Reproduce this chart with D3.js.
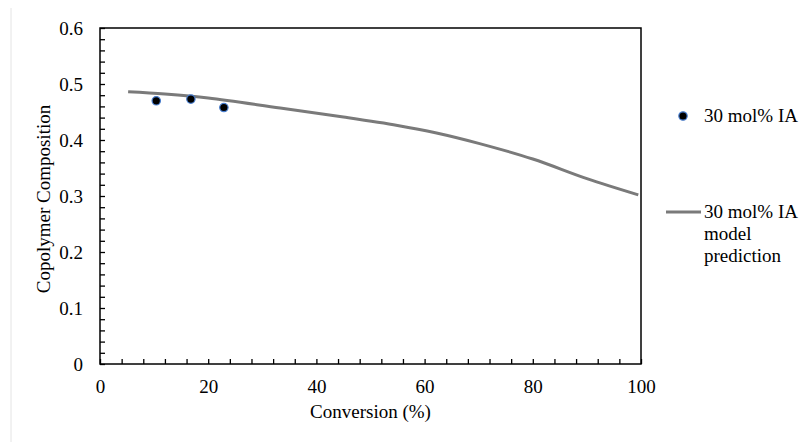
<!DOCTYPE html>
<html>
<head>
<meta charset="utf-8">
<script src="https://cdn.jsdelivr.net/npm/d3@7"></script>
<style>
  html, body { margin: 0; padding: 0; background: #fff; }
  svg { display: block; }
  svg text { font-family: "Liberation Serif", "Times New Roman", Times, "DejaVu Serif", serif !important; fill: #000; }
</style>
</head>
<body>
<svg id="chart" width="800" height="442"></svg>
<script>
// Measured copolymer composition (30 mol% IA feed)
const expConversion = [10.4, 16.8, 22.9];
const expComposition = [0.470, 0.473, 0.458];

// Model prediction curve
const modelConversion = [5.2, 12, 20, 33.3, 45, 55, 62, 70, 80, 90, 99.5];
const modelComposition = [0.486, 0.482, 0.475, 0.457, 0.441, 0.426, 0.413, 0.394, 0.366, 0.331, 0.302];

const xMajorTicks = [0, 20, 40, 60, 80, 100];
const yMajorTicks = [0, 0.1, 0.2, 0.3, 0.4, 0.5, 0.6];

const seriesLabels = ["30 mol% IA", ["30 mol% IA", "model", "prediction"]];

const svg = d3.select("#chart");
const plot = { left: 100, right: 641, top: 28, bottom: 364 };

const x = d3.scaleLinear().domain([0, 100]).range([plot.left, plot.right]);
const y = d3.scaleLinear().domain([0, 0.6]).range([plot.bottom, plot.top]);

// faint page edge line on the left
svg.append("line")
  .attr("x1", 11).attr("x2", 11).attr("y1", 8).attr("y2", 442)
  .attr("stroke", "#e4e4e4").attr("stroke-width", 1);

// frame
svg.append("rect")
  .attr("x", plot.left).attr("y", plot.top)
  .attr("width", plot.right - plot.left).attr("height", plot.bottom - plot.top)
  .attr("fill", "none").attr("stroke", "#000").attr("stroke-width", 1.5);

// minor ticks (inward)
const xMinor = d3.range(0, 100.001, 4);
const yMinor = d3.range(0, 0.6001, 0.02);

svg.append("g")
  .attr("transform", `translate(0,${plot.bottom})`)
  .call(d3.axisBottom(x).tickValues(xMinor).tickSize(-5).tickFormat(""))
  .call(g => g.select(".domain").remove())
  .call(g => g.selectAll("line").attr("stroke", "#000").attr("stroke-width", 1.3));

svg.append("g")
  .attr("transform", `translate(${plot.left},0)`)
  .call(d3.axisLeft(y).tickValues(yMinor).tickSize(-5).tickFormat(""))
  .call(g => g.select(".domain").remove())
  .call(g => g.selectAll("line").attr("stroke", "#000").attr("stroke-width", 1.3));

// major tick labels
svg.append("g")
  .attr("transform", `translate(0,${plot.bottom})`)
  .call(d3.axisBottom(x).tickValues(xMajorTicks).tickSize(0).tickPadding(16).tickFormat(d3.format("d")))
  .call(g => g.select(".domain").remove())
  .call(g => g.selectAll("text").attr("font-size", 19));

svg.append("g")
  .attr("transform", `translate(${plot.left},0)`)
  .call(d3.axisLeft(y).tickValues(yMajorTicks).tickSize(0).tickPadding(17).tickFormat(d => d === 0 ? "0" : d3.format(".1f")(d)))
  .call(g => g.select(".domain").remove())
  .call(g => g.selectAll("text").attr("font-size", 19));

// axis titles
svg.append("text")
  .attr("x", (plot.left + plot.right) / 2).attr("y", 418)
  .attr("text-anchor", "middle").attr("font-size", 19)
  .text("Conversion (%)");

svg.append("text")
  .attr("transform", `translate(50,${(plot.top + plot.bottom) / 2 + 3}) rotate(-90)`)
  .attr("text-anchor", "middle").attr("font-size", 19)
  .text("Copolymer Composition");

// model line
const line = d3.line()
  .x((d, i) => x(modelConversion[i]))
  .y(d => y(d))
  .curve(d3.curveCatmullRom.alpha(0.5));

svg.append("path")
  .datum(modelComposition)
  .attr("d", line)
  .attr("fill", "none")
  .attr("stroke", "#7a7a7a")
  .attr("stroke-width", 3);

// experimental points
svg.append("g").selectAll("circle")
  .data(expComposition)
  .join("circle")
  .attr("cx", (d, i) => x(expConversion[i]))
  .attr("cy", d => y(d))
  .attr("r", 4.2)
  .attr("fill", "#000")
  .attr("stroke", "#4a7fd0")
  .attr("stroke-width", 1.2);

// legend
const legend = svg.append("g");
legend.append("circle")
  .attr("cx", 683).attr("cy", 116).attr("r", 4.2)
  .attr("fill", "#000").attr("stroke", "#4a7fd0").attr("stroke-width", 1.2);
legend.append("text")
  .attr("x", 704).attr("y", 122).attr("font-size", 19)
  .text(seriesLabels[0]);

legend.append("line")
  .attr("x1", 666).attr("x2", 701).attr("y1", 212).attr("y2", 212)
  .attr("stroke", "#7a7a7a").attr("stroke-width", 3);
const multi = legend.append("text")
  .attr("x", 704).attr("y", 218).attr("font-size", 19);
seriesLabels[1].forEach((t, i) => {
  multi.append("tspan").attr("x", 704).attr("dy", i === 0 ? 0 : 22).text(t);
});
</script>
</body>
</html>
